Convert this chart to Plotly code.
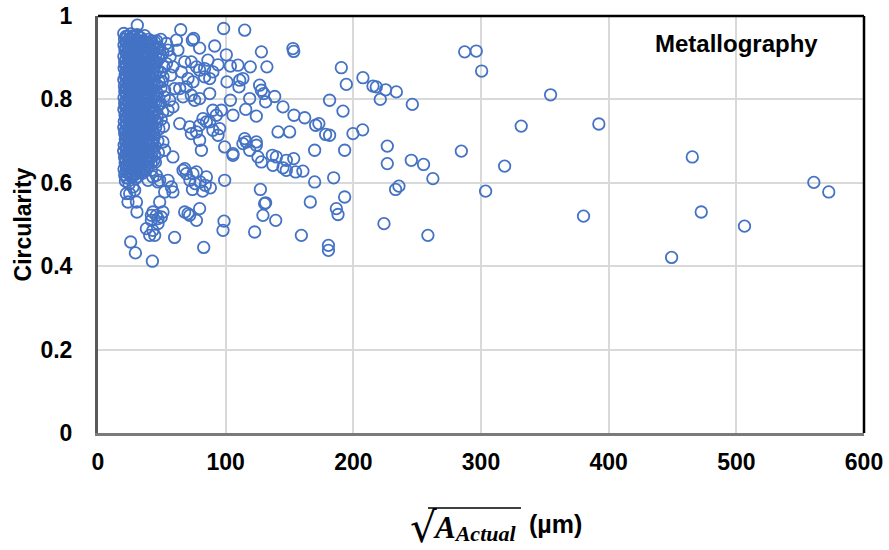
import plotly.graph_objects as go

# Pore size (square root of actual area, µm) vs. circularity, metallography data set.

# Densely populated small pores (sqrt area roughly 20-45 µm)
dense_core = [
    (20.2, 0.958), (20.8, 0.944), (20.4, 0.930), (21.1, 0.917), (20.3, 0.903), (20.9, 0.889), (20.5, 0.875),
    (21.3, 0.861), (20.2, 0.847), (20.7, 0.832), (21.0, 0.819), (20.4, 0.804), (20.9, 0.790), (20.3, 0.776),
    (21.2, 0.762), (20.6, 0.747), (20.2, 0.733), (20.9, 0.719), (21.4, 0.705), (20.5, 0.690), (20.1, 0.676),
    (20.8, 0.662), (21.3, 0.648), (20.4, 0.633), (20.9, 0.619), (21.5, 0.604),
    (21.8, 0.951), (22.1, 0.937), (21.6, 0.923), (22.3, 0.910), (21.9, 0.896), (21.5, 0.882), (22.2, 0.868),
    (21.7, 0.854), (22.0, 0.840), (21.6, 0.826), (22.4, 0.811), (21.8, 0.797), (21.5, 0.783), (22.1, 0.769),
    (21.9, 0.755), (22.3, 0.740), (21.6, 0.726), (22.0, 0.712), (21.7, 0.698), (22.2, 0.683), (21.8, 0.669),
    (21.5, 0.655), (22.1, 0.641), (21.9, 0.626), (22.3, 0.612),
    (23.1, 0.951), (22.6, 0.937), (23.5, 0.924), (22.9, 0.909), (23.8, 0.896), (22.7, 0.882), (23.3, 0.867),
    (22.5, 0.853), (23.6, 0.840), (23.0, 0.825), (22.6, 0.811), (23.4, 0.798), (22.8, 0.783), (23.7, 0.769),
    (23.1, 0.755), (22.5, 0.741), (23.4, 0.726), (22.9, 0.712), (23.6, 0.698), (22.7, 0.684), (23.2, 0.669),
    (23.8, 0.655), (22.6, 0.641), (23.3, 0.626), (22.9, 0.612),
    (24.4, 0.945), (24.8, 0.931), (24.1, 0.917), (24.6, 0.903), (24.2, 0.889), (24.9, 0.875), (24.3, 0.861),
    (24.7, 0.847), (24.0, 0.833), (24.5, 0.819), (24.8, 0.805), (24.2, 0.791), (24.6, 0.777), (24.1, 0.763),
    (24.9, 0.749), (24.4, 0.735), (24.0, 0.721), (24.7, 0.707), (24.3, 0.693), (24.8, 0.679), (24.2, 0.665),
    (24.5, 0.651), (24.1, 0.637), (24.6, 0.622), (24.3, 0.597),
    (25.6, 0.957), (26.2, 0.943), (25.3, 0.929), (26.0, 0.915), (25.7, 0.901), (26.5, 0.887), (25.4, 0.873),
    (26.1, 0.859), (25.8, 0.845), (26.6, 0.831), (25.2, 0.817), (25.9, 0.803), (26.4, 0.789), (25.5, 0.774),
    (26.2, 0.760), (25.8, 0.746), (26.7, 0.732), (25.3, 0.718), (26.0, 0.703), (25.6, 0.689), (26.4, 0.675),
    (25.1, 0.661), (25.9, 0.647), (26.5, 0.632), (25.4, 0.618),
    (27.0, 0.952), (27.3, 0.938), (26.8, 0.924), (27.2, 0.911), (26.9, 0.897), (27.4, 0.883), (27.1, 0.869),
    (26.8, 0.855), (27.3, 0.841), (27.0, 0.827), (26.9, 0.813), (27.4, 0.799), (27.1, 0.785), (26.8, 0.771),
    (27.2, 0.757), (27.0, 0.743), (27.4, 0.729), (26.9, 0.715), (27.2, 0.701), (27.0, 0.687), (26.8, 0.673),
    (27.3, 0.659), (27.1, 0.645), (26.9, 0.631), (27.3, 0.617),
    (28.3, 0.949), (27.8, 0.935), (28.9, 0.921), (28.1, 0.908), (27.6, 0.894), (29.2, 0.880), (28.4, 0.866),
    (27.9, 0.852), (28.8, 0.838), (28.2, 0.824), (29.4, 0.810), (27.7, 0.795), (28.6, 0.781), (28.0, 0.767),
    (29.0, 0.753), (28.3, 0.739), (27.8, 0.724), (28.9, 0.710), (28.2, 0.696), (27.6, 0.682), (29.1, 0.668),
    (28.5, 0.653), (27.9, 0.639), (28.7, 0.624), (29.3, 0.610),
    (29.7, 0.943), (30.0, 0.929), (29.5, 0.915), (29.9, 0.901), (29.6, 0.887), (30.1, 0.873), (29.8, 0.859),
    (29.5, 0.845), (30.0, 0.831), (29.7, 0.817), (29.6, 0.803), (30.1, 0.789), (29.8, 0.775), (29.5, 0.761),
    (29.9, 0.747), (29.7, 0.733), (30.1, 0.719), (29.6, 0.705), (29.9, 0.691), (29.7, 0.677), (29.5, 0.663),
    (30.0, 0.649), (29.8, 0.635), (29.6, 0.621),
    (30.6, 0.955), (31.2, 0.941), (30.3, 0.926), (31.5, 0.912), (30.8, 0.899), (31.9, 0.885), (30.4, 0.871),
    (31.3, 0.857), (30.9, 0.842), (31.7, 0.828), (30.2, 0.814), (31.0, 0.800), (31.6, 0.786), (30.5, 0.772),
    (31.4, 0.758), (30.7, 0.744), (31.8, 0.729), (30.3, 0.715), (31.1, 0.701), (30.6, 0.687), (31.5, 0.672),
    (30.9, 0.658), (31.9, 0.644), (30.4, 0.629), (31.2, 0.615),
    (32.3, 0.950), (32.6, 0.936), (32.1, 0.922), (32.5, 0.908), (32.2, 0.894), (32.7, 0.880), (32.4, 0.866),
    (32.1, 0.852), (32.6, 0.838), (32.3, 0.824), (32.2, 0.810), (32.7, 0.796), (32.4, 0.782), (32.1, 0.768),
    (32.5, 0.754), (32.3, 0.740), (32.7, 0.726), (32.2, 0.712), (32.5, 0.698), (32.3, 0.684), (32.1, 0.670),
    (32.6, 0.656), (32.4, 0.642), (32.2, 0.628),
    (33.4, 0.948), (34.1, 0.934), (33.0, 0.920), (34.5, 0.906), (33.7, 0.892), (33.2, 0.878), (34.3, 0.864),
    (33.6, 0.850), (34.8, 0.836), (33.1, 0.822), (34.0, 0.808), (33.5, 0.793), (34.6, 0.779), (33.3, 0.765),
    (34.2, 0.751), (33.8, 0.737), (34.7, 0.722), (33.0, 0.708), (33.9, 0.694), (34.4, 0.680), (33.4, 0.666),
    (34.1, 0.651), (33.6, 0.637), (34.9, 0.623),
    (35.2, 0.941), (35.5, 0.927), (35.0, 0.913), (35.4, 0.899), (35.1, 0.885), (35.6, 0.871), (35.3, 0.857),
    (35.0, 0.843), (35.5, 0.829), (35.2, 0.815), (35.1, 0.801), (35.6, 0.787), (35.3, 0.773), (35.0, 0.759),
    (35.4, 0.745), (35.2, 0.731), (35.6, 0.717), (35.1, 0.703), (35.4, 0.689), (35.2, 0.675), (35.0, 0.661),
    (35.5, 0.647), (35.3, 0.633),
    (36.5, 0.953), (37.2, 0.938), (36.1, 0.925), (37.6, 0.910), (36.8, 0.897), (37.4, 0.882), (36.3, 0.869),
    (37.0, 0.855), (37.8, 0.840), (36.6, 0.827), (37.3, 0.812), (36.2, 0.798), (37.7, 0.784), (36.9, 0.770),
    (37.5, 0.755), (36.4, 0.741), (37.1, 0.727), (36.7, 0.713), (37.9, 0.699), (36.3, 0.684), (37.2, 0.670),
    (36.8, 0.656), (37.6, 0.642), (36.5, 0.628),
    (38.4, 0.930), (38.7, 0.902), (38.2, 0.874), (38.6, 0.846), (38.3, 0.818), (38.8, 0.790), (38.5, 0.762),
    (38.2, 0.734), (38.7, 0.706), (38.4, 0.678), (38.6, 0.650),
    (39.0, 0.935), (39.1, 0.888), (38.9, 0.860), (39.2, 0.831), (38.9, 0.801), (39.1, 0.772), (38.9, 0.748),
    (39.3, 0.720), (39.0, 0.692), (39.2, 0.664),
]

dense_edge = [
    (39.6, 0.944), (40.3, 0.927), (39.2, 0.910), (40.8, 0.893), (39.8, 0.876), (40.5, 0.860), (39.4, 0.843),
    (40.9, 0.826), (39.9, 0.809), (40.4, 0.792), (39.3, 0.775), (40.7, 0.758), (39.7, 0.741), (40.2, 0.724),
    (39.5, 0.707), (40.6, 0.690), (39.8, 0.673), (40.3, 0.656), (39.4, 0.640),
    (41.5, 0.918), (41.8, 0.884), (41.3, 0.851), (41.7, 0.817), (41.4, 0.784), (41.9, 0.750), (41.6, 0.715),
    (41.2, 0.681), (41.7, 0.648),
    (42.0, 0.940), (42.2, 0.897), (42.1, 0.861), (42.3, 0.833), (41.9, 0.798), (42.2, 0.767), (42.0, 0.728),
    (42.3, 0.700), (42.1, 0.662),
    (43.1, 0.932), (42.6, 0.910), (43.7, 0.889), (42.9, 0.868), (43.4, 0.846), (42.4, 0.825), (43.9, 0.804),
    (42.8, 0.782), (43.5, 0.760), (42.5, 0.739), (43.8, 0.718), (43.0, 0.696), (42.7, 0.675), (43.6, 0.653),
    (44.0, 0.922), (44.3, 0.878), (44.1, 0.836), (44.2, 0.795), (44.4, 0.750), (44.0, 0.709), (44.3, 0.668),
    (45.1, 0.905), (44.8, 0.857), (45.3, 0.810), (44.9, 0.771), (45.2, 0.733), (44.7, 0.688), (45.0, 0.650),
    (46.0, 0.940), (45.8, 0.888), (46.1, 0.835), (45.9, 0.795), (46.1, 0.745),
    (46.8, 0.925), (47.5, 0.897), (46.3, 0.870), (47.9, 0.842), (46.6, 0.814), (47.2, 0.786), (46.4, 0.757),
    (47.7, 0.729), (46.9, 0.700), (47.3, 0.672),
    (49.2, 0.944), (49.6, 0.905), (48.9, 0.866), (49.4, 0.828), (49.0, 0.790), (49.5, 0.752),
    (50.8, 0.912), (51.6, 0.878), (50.3, 0.843), (51.9, 0.806), (50.6, 0.770), (51.3, 0.735), (50.9, 0.698),
    (30.8, 0.978), (44.4, 0.938), (48.3, 0.922), (53.6, 0.934), (54.8, 0.918), (53.6, 0.886), (51.0, 0.854),
    (52.2, 0.822), (56.1, 0.798), (54.8, 0.774), (58.7, 0.782), (56.5, 0.902), (57.0, 0.858),
]

# Lower-circularity small pores
small_low = [
    (43.0, 0.614), (47.0, 0.602), (27.4, 0.590), (22.2, 0.574), (41.8, 0.630), (45.7, 0.618), (39.2, 0.606),
    (48.3, 0.606), (54.8, 0.606), (22.2, 0.638), (30.1, 0.638), (26.2, 0.614), (24.8, 0.574), (23.5, 0.554),
    (52.2, 0.578), (58.7, 0.578), (48.3, 0.554), (28.7, 0.582), (30.1, 0.554), (30.5, 0.530), (43.0, 0.530),
    (50.9, 0.530), (47.0, 0.514), (41.8, 0.510), (37.9, 0.490), (43.0, 0.486), (44.4, 0.474), (40.5, 0.474),
    (60.0, 0.469), (25.6, 0.458), (29.3, 0.432), (42.6, 0.412), (57.5, 0.590), (41.8, 0.522), (45.7, 0.522),
    (49.6, 0.518), (47.0, 0.502), (52.2, 0.678), (58.7, 0.662), (66.6, 0.630), (69.2, 0.622), (74.4, 0.622),
    (67.9, 0.634), (77.1, 0.626), (84.9, 0.614), (67.9, 0.530), (70.5, 0.526), (71.8, 0.522), (77.1, 0.510),
    (79.6, 0.538), (72.0, 0.606), (76.0, 0.598), (80.0, 0.602), (84.0, 0.594), (88.0, 0.588), (82.0, 0.580),
    (74.0, 0.584), (82.8, 0.445),
]

# Medium pores (sqrt area roughly 60-180 µm)
medium = [
    (64.8, 0.967), (73.9, 0.942), (61.4, 0.942), (62.6, 0.918), (74.9, 0.946), (79.6, 0.923), (91.4, 0.928),
    (98.4, 0.970), (114.9, 0.966), (100.5, 0.907), (128.0, 0.914), (152.7, 0.922), (153.3, 0.915),
    (67.9, 0.890), (73.1, 0.890), (86.1, 0.894), (77.1, 0.878), (83.5, 0.874), (58.7, 0.878), (94.0, 0.883),
    (103.7, 0.880), (109.6, 0.882), (119.3, 0.878), (132.3, 0.878), (65.3, 0.866), (70.5, 0.850),
    (74.4, 0.842), (79.6, 0.870), (83.5, 0.854), (90.0, 0.866), (87.5, 0.850), (101.0, 0.842), (111.0, 0.846),
    (113.5, 0.850), (110.4, 0.830), (126.6, 0.834), (128.0, 0.822), (129.8, 0.814), (138.4, 0.807),
    (60.1, 0.826), (64.0, 0.826), (69.2, 0.830), (73.1, 0.810), (75.7, 0.798), (79.6, 0.802), (66.6, 0.806),
    (87.5, 0.814), (103.7, 0.798), (118.8, 0.802), (131.3, 0.794), (144.9, 0.782), (115.7, 0.776),
    (96.6, 0.774), (92.7, 0.762), (90.0, 0.774), (105.7, 0.762), (124.0, 0.760), (153.5, 0.762),
    (161.9, 0.756), (64.0, 0.742), (71.8, 0.734), (73.1, 0.718), (77.1, 0.722), (79.6, 0.738), (82.2, 0.754),
    (84.9, 0.746), (87.5, 0.746), (95.3, 0.730), (90.0, 0.726), (94.0, 0.714), (79.6, 0.702), (141.0, 0.722),
    (150.1, 0.722), (170.5, 0.738), (173.0, 0.742), (178.3, 0.716), (114.9, 0.706), (124.0, 0.698),
    (116.2, 0.698), (81.0, 0.678), (99.2, 0.686), (105.7, 0.666), (105.7, 0.670), (113.5, 0.694),
    (118.8, 0.678), (124.0, 0.690), (125.3, 0.662), (128.0, 0.650), (136.6, 0.666), (137.0, 0.642),
    (139.7, 0.662), (144.9, 0.636), (147.5, 0.630), (147.5, 0.654), (153.3, 0.658), (154.8, 0.626),
    (160.5, 0.628), (169.7, 0.678), (169.7, 0.602), (99.2, 0.606), (127.2, 0.584), (131.3, 0.552),
    (130.5, 0.550), (129.2, 0.522), (139.2, 0.510), (166.3, 0.554), (98.7, 0.508), (97.9, 0.486),
    (122.7, 0.482), (159.3, 0.474),
]

# Large pores (sqrt area above ~180 µm)
large = [
    (181.4, 0.798), (190.6, 0.876), (194.5, 0.836), (207.5, 0.852), (215.4, 0.832), (218.0, 0.830),
    (225.3, 0.823), (233.7, 0.818), (221.1, 0.800), (246.2, 0.788), (191.9, 0.772), (181.4, 0.714),
    (199.7, 0.718), (207.3, 0.727), (193.2, 0.678), (226.6, 0.688), (226.6, 0.646), (245.4, 0.654),
    (255.0, 0.644), (262.3, 0.610), (284.6, 0.676), (318.5, 0.640), (303.6, 0.580), (184.6, 0.612),
    (193.2, 0.566), (186.7, 0.538), (188.0, 0.524), (233.1, 0.584), (235.7, 0.592), (224.0, 0.502),
    (258.4, 0.474), (180.5, 0.450), (180.5, 0.438), (287.2, 0.914), (296.3, 0.916), (300.5, 0.868),
    (354.5, 0.811), (331.5, 0.736), (392.3, 0.741), (465.5, 0.662), (560.7, 0.601), (572.4, 0.578),
    (380.3, 0.520), (472.5, 0.530), (506.4, 0.496), (449.3, 0.421),
]

x_ticks = [0, 100, 200, 300, 400, 500, 600]
y_ticks = [0, 0.2, 0.4, 0.6, 0.8, 1]
y_tick_text = ["0", "0.2", "0.4", "0.6", "0.8", "1"]

all_points = dense_core + dense_edge + small_low + medium + large
sqrt_area = [p[0] for p in all_points]
circularity = [p[1] for p in all_points]

BLUE = "#4472C4"
FONT = "Arial, 'Liberation Sans', sans-serif"


def px_x(p):
    """Horizontal pixel position -> paper fraction of the plot area."""
    return (p - 98.0) / 766.0


def px_y(p):
    """Vertical pixel position -> paper fraction of the plot area."""
    return (433.0 - p) / 417.0


fig = go.Figure()
fig.add_trace(go.Scatter(
    x=sqrt_area, y=circularity, mode="markers",
    marker=dict(symbol="circle-open", size=11.5, color=BLUE, line=dict(width=1.8, color=BLUE)),
    showlegend=False, hoverinfo="x+y",
))

axis_font = dict(family=FONT, size=23, color="black", weight="bold")

fig.update_xaxes(
    range=[0, 600], tickvals=x_ticks, ticktext=[str(v) for v in x_ticks],
    showgrid=True, gridcolor="#d9d9d9", gridwidth=1.5, zeroline=False,
    showline=True, linecolor="#7a7a7a", linewidth=3, automargin=False,
    ticks="", tickfont=axis_font, ticklabelstandoff=6,
)
fig.update_yaxes(
    range=[0, 1], tickvals=y_ticks, ticktext=y_tick_text,
    showgrid=True, gridcolor="#d9d9d9", gridwidth=1.5, zeroline=False,
    showline=True, linecolor="#5a5a5a", linewidth=3, automargin=False,
    ticks="", tickfont=axis_font, ticklabelstandoff=18,
    title=dict(text="Circularity", font=dict(family=FONT, size=23, color="black", weight="bold"), standoff=3),
)

# white box behind the data set label (hides gridlines, stays under the frame)
fig.add_shape(type="rect", xref="paper", yref="paper",
              x0=px_x(634), x1=1, y0=px_y(77), y1=1,
              fillcolor="white", line=dict(width=0), layer="between")

# top and right frame lines
fig.add_shape(type="line", xref="paper", yref="paper", x0=0, x1=1, y0=1, y1=1,
              line=dict(color="black", width=2.5), layer="above")
fig.add_shape(type="line", xref="paper", yref="paper", x0=1, x1=1, y0=0, y1=1,
              line=dict(color="black", width=2.5), layer="above")

fig.add_annotation(
    text="<b>Metallography</b>", xref="paper", yref="paper",
    x=px_x(736), y=px_y(43), xanchor="center", yanchor="middle", showarrow=False,
    font=dict(family=FONT, size=24, color="black"),
)

# x-axis title: square root of the actual area
fig.add_annotation(
    text="<span style='font-family:\"DejaVu Sans\"'>√</span>",
    xref="paper", yref="paper", x=px_x(408), y=px_y(527), xanchor="left", yanchor="middle",
    showarrow=False, font=dict(color="black", size=42),
)
fig.add_annotation(
    text=("<span style='font-family:\"Liberation Serif\";font-size:31px'><b><i>A</i></b></span>"
          "<sub><span style='font-family:\"Liberation Serif\";font-size:22px'><b><i>Actual</i></b></span></sub>"),
    xref="paper", yref="paper", x=px_x(431), y=px_y(528), xanchor="left", yanchor="middle",
    showarrow=False, font=dict(color="black"),
)
fig.add_annotation(
    text="<b>(µm)</b>",
    xref="paper", yref="paper", x=px_x(527), y=px_y(524), xanchor="left", yanchor="middle",
    showarrow=False, font=dict(family=FONT, color="black", size=25),
)
fig.add_shape(type="line", xref="paper", yref="paper",
              x0=px_x(428), x1=px_x(521), y0=px_y(508), y1=px_y(508),
              line=dict(color="black", width=1.5))

fig.update_layout(
    width=889, height=550,
    margin=dict(l=98, r=25, t=16, b=117),
    paper_bgcolor="white", plot_bgcolor="white",
    font=dict(family=FONT, color="black"),
)

fig.write_html("out.html")
